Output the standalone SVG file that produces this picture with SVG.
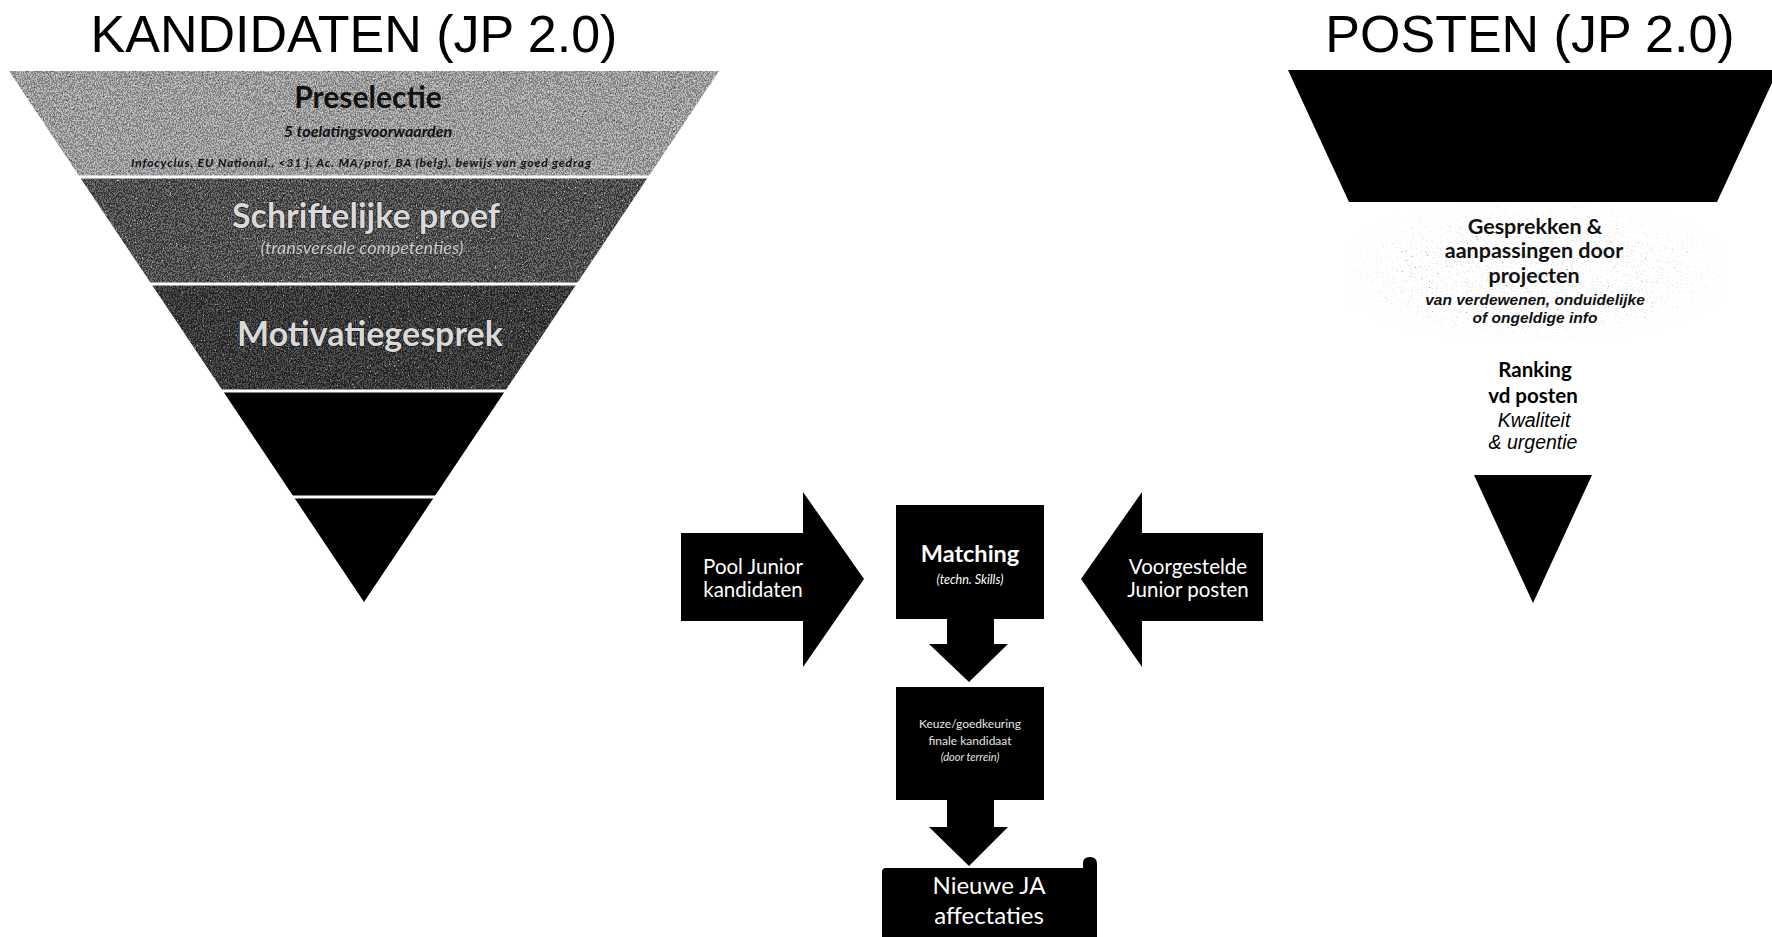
<svg xmlns="http://www.w3.org/2000/svg" width="1772" height="937" viewBox="0 0 1772 937">
<style>
  .title{font-family:"Liberation Sans",Arial,sans-serif;font-size:52px;fill:#000;text-anchor:middle}
  .cal{font-family:Lato,"Liberation Sans",sans-serif;text-anchor:middle}
  .ar{font-family:"Liberation Sans",Arial,sans-serif;text-anchor:middle}
  .blk{fill:#000}
  .wt{fill:#fff}
  .sep{stroke:#fff;stroke-width:3}
  .lt{fill:#d9d9d9;stroke:#151515;stroke-width:1.2;paint-order:stroke;font-weight:700}
</style>
<defs>
  <filter id="texA" x="0%" y="0%" width="100%" height="100%" color-interpolation-filters="sRGB">
    <feTurbulence type="fractalNoise" baseFrequency="0.85 0.55" numOctaves="2" seed="4" result="t"/>
    <feColorMatrix in="t" type="matrix" values="0.33 0.33 0.33 0 0 0.33 0.33 0.33 0 0 0.33 0.33 0.33 0 0 0 0 0 0 1" result="g"/>
    <feComponentTransfer in="g" result="d">
      <feFuncR type="discrete" tableValues="0.15 0.3 0.52 0.72 0.9 1"/>
      <feFuncG type="discrete" tableValues="0.15 0.3 0.52 0.72 0.9 1"/>
      <feFuncB type="discrete" tableValues="0.15 0.3 0.52 0.72 0.9 1"/>
    </feComponentTransfer>
    <feComposite in="d" in2="SourceGraphic" operator="in"/>
  </filter>
  <filter id="texB" x="0%" y="0%" width="100%" height="100%" color-interpolation-filters="sRGB">
    <feTurbulence type="fractalNoise" baseFrequency="0.85 0.55" numOctaves="2" seed="9" result="t"/>
    <feColorMatrix in="t" type="matrix" values="0.33 0.33 0.33 0 0 0.33 0.33 0.33 0 0 0.33 0.33 0.33 0 0 0 0 0 0 1" result="g"/>
    <feComponentTransfer in="g" result="d">
      <feFuncR type="discrete" tableValues="0 0.08 0.22 0.42 0.75 1"/>
      <feFuncG type="discrete" tableValues="0 0.08 0.22 0.42 0.75 1"/>
      <feFuncB type="discrete" tableValues="0 0.08 0.22 0.42 0.75 1"/>
    </feComponentTransfer>
    <feComposite in="d" in2="SourceGraphic" operator="in"/>
  </filter>
  <filter id="texC" x="0%" y="0%" width="100%" height="100%" color-interpolation-filters="sRGB">
    <feTurbulence type="fractalNoise" baseFrequency="0.85 0.55" numOctaves="2" seed="13" result="t"/>
    <feColorMatrix in="t" type="matrix" values="0.33 0.33 0.33 0 0 0.33 0.33 0.33 0 0 0.33 0.33 0.33 0 0 0 0 0 0 1" result="g"/>
    <feComponentTransfer in="g" result="d">
      <feFuncR type="discrete" tableValues="0 0.05 0.15 0.32 0.65 1"/>
      <feFuncG type="discrete" tableValues="0 0.05 0.15 0.32 0.65 1"/>
      <feFuncB type="discrete" tableValues="0 0.05 0.15 0.32 0.65 1"/>
    </feComponentTransfer>
    <feComposite in="d" in2="SourceGraphic" operator="in"/>
  </filter>
  <filter id="texS" x="0%" y="0%" width="100%" height="100%" color-interpolation-filters="sRGB">
    <feTurbulence type="fractalNoise" baseFrequency="1.2" numOctaves="2" seed="21" result="t"/>
    <feColorMatrix in="t" type="matrix" values="0.33 0.33 0.33 0 0 0.33 0.33 0.33 0 0 0.33 0.33 0.33 0 0 0 0 0 0 1" result="g"/>
    <feComponentTransfer in="g" result="d">
      <feFuncR type="discrete" tableValues="0.3 0.45 0.65 0.92 1 1 0.92 0.65 0.45 0.3"/>
      <feFuncG type="discrete" tableValues="0.3 0.45 0.65 0.92 1 1 0.92 0.65 0.45 0.3"/>
      <feFuncB type="discrete" tableValues="0.3 0.45 0.65 0.92 1 1 0.92 0.65 0.45 0.3"/>
    </feComponentTransfer>
    <feComposite in="d" in2="SourceGraphic" operator="in"/>
  </filter>
  <radialGradient id="fade" cx="50%" cy="50%" r="55%">
    <stop offset="0.55" stop-color="#fff" stop-opacity="1"/>
    <stop offset="1" stop-color="#fff" stop-opacity="0"/>
  </radialGradient>
  <mask id="speckMask" maskContentUnits="userSpaceOnUse">
    <rect x="1345" y="203" width="380" height="137" fill="url(#fade)"/>
  </mask>
</defs>

<rect width="1772" height="937" fill="#fff"/>

<g id="title-kandidaten"><text class="title" x="354" y="52">KANDIDATEN (JP 2.0)</text></g>
<g id="title-posten"><text class="title" x="1530" y="52">POSTEN (JP 2.0)</text></g>

<g id="funnel-kandidaten">
  <g id="band-preselectie">
    <polygon points="9,71 719,71 648.2,177 79.8,177" fill="#999" filter="url(#texA)"/>
    <text class="cal" x="368" y="108" font-size="30" font-weight="700" fill="#111">Preselectie</text>
    <text class="cal" x="368" y="137" font-size="16" font-weight="700" font-style="italic" fill="#111">5 toelatingsvoorwaarden</text>
    <text class="cal" x="361" y="167" font-size="12" font-weight="700" font-style="italic" fill="#111" textLength="460">Infocyclus, EU National., &lt;31 j, Ac. MA/prof. BA (belg), bewijs van goed gedrag</text>
  </g>
  <g id="band-schriftelijk">
    <polygon points="79.8,177 648.2,177 576.6,284 151.4,284" fill="#444" filter="url(#texB)"/>
    <text class="cal lt" x="366" y="228" font-size="34">Schriftelijke proef</text>
    <text class="cal" x="362" y="254" font-size="18" font-style="italic" fill="#cfcfcf" stroke="#222" stroke-width="0.8" paint-order="stroke">(transversale competenties)</text>
  </g>
  <g id="band-motivatie">
    <polygon points="151.4,284 576.6,284 505.1,391 222.9,391" fill="#333" filter="url(#texC)"/>
    <text class="cal lt" x="370" y="346" font-size="34">Motivatiegesprek</text>
  </g>
  <g id="band-4"><polygon class="blk" points="222.9,391 505.1,391 434.2,497 293.8,497"/></g>
  <g id="band-5"><polygon class="blk" points="293.8,497 434.2,497 364,602"/></g>
  <line class="sep" x1="70" y1="177" x2="660" y2="177"/>
  <line class="sep" x1="140" y1="284" x2="590" y2="284"/>
  <line class="sep" x1="210" y1="391" x2="520" y2="391"/>
  <line class="sep" x1="280" y1="497" x2="450" y2="497"/>
</g>

<g id="funnel-posten">
  <g id="posten-top"><polygon class="blk" points="1288,70 1778,70 1717,202 1349,202"/></g>
  <g id="posten-gesprekken">
    <g mask="url(#speckMask)">
      <rect x="1345" y="203" width="380" height="137" fill="#fff" filter="url(#texS)"/>
    </g>
    <text class="cal" x="1535" y="234" font-size="21.5" font-weight="700" fill="#111">Gesprekken &amp;</text>
    <text class="cal" x="1534" y="258" font-size="21.5" font-weight="700" fill="#111">aanpassingen door</text>
    <text class="cal" x="1534" y="283" font-size="21.5" font-weight="700" fill="#111">projecten</text>
    <text class="ar" x="1535" y="305" font-size="15.5" font-weight="700" font-style="italic" fill="#111">van verdewenen, onduidelijke</text>
    <text class="ar" x="1535" y="323" font-size="15.5" font-weight="700" font-style="italic" fill="#111">of  ongeldige info</text>
  </g>
  <g id="posten-ranking">
    <text class="cal" x="1535" y="377" font-size="20.5" font-weight="700" fill="#000">Ranking</text>
    <text class="cal" x="1533" y="403" font-size="20.5" font-weight="700" fill="#000">vd posten</text>
    <text class="ar" x="1534" y="427" font-size="19.5" font-style="italic" fill="#000">Kwaliteit</text>
    <text class="ar" x="1533" y="449" font-size="19.5" font-style="italic" fill="#000">&amp; urgentie</text>
  </g>
  <g id="posten-bottom"><polygon class="blk" points="1474,475 1592,475 1533,603"/></g>
</g>

<g id="node-pool">
  <polygon class="blk" points="681,533 803,533 803,492 864,579 803,667 803,621 681,621"/>
  <text class="cal wt" x="753" y="574" font-size="20.5">Pool Junior</text>
  <text class="cal wt" x="753" y="597" font-size="20.5">kandidaten</text>
</g>

<g id="node-matching">
  <rect class="blk" x="896" y="505" width="148" height="114"/>
  <text class="cal wt" x="970" y="562" font-size="23.5" font-weight="700">Matching</text>
  <text class="cal wt" x="970" y="584" font-size="12.5" font-style="italic">(techn. Skills)</text>
</g>

<g id="node-voorgesteld">
  <polygon class="blk" points="1263,533 1142,533 1142,492 1081,579 1142,667 1142,621 1263,621"/>
  <text class="cal wt" x="1188" y="574" font-size="20.5">Voorgestelde</text>
  <text class="cal wt" x="1188" y="597" font-size="20.5">Junior posten</text>
</g>

<g id="node-keuze">
  <rect class="blk" x="896" y="687" width="148" height="113"/>
  <text class="cal" x="970" y="728" font-size="12" fill="#e6e6e6">Keuze/goedkeuring</text>
  <text class="cal" x="970" y="745" font-size="12" fill="#e6e6e6">finale kandidaat</text>
  <text class="cal" x="970" y="761" font-size="11" font-style="italic" fill="#e6e6e6">(door terrein)</text>
</g>

<g id="node-nieuwe">
  <path class="blk" d="M882,872 Q882,868 886,868 L1083,868 L1083,863 Q1083,857 1090,857 Q1097,857 1097,864 L1097,937 L882,937 Z"/>
  <text class="cal wt" x="989" y="894" font-size="24">Nieuwe JA</text>
  <text class="cal wt" x="989" y="924" font-size="24">affectaties</text>
</g>

<g id="connectors">
  <polygon class="blk" points="947,619 994,619 994,644 1008,644 969,682 929,644 947,644"/>
  <polygon class="blk" points="947,800 994,800 994,827 1008,827 969,866 929,827 947,827"/>
</g>
</svg>
